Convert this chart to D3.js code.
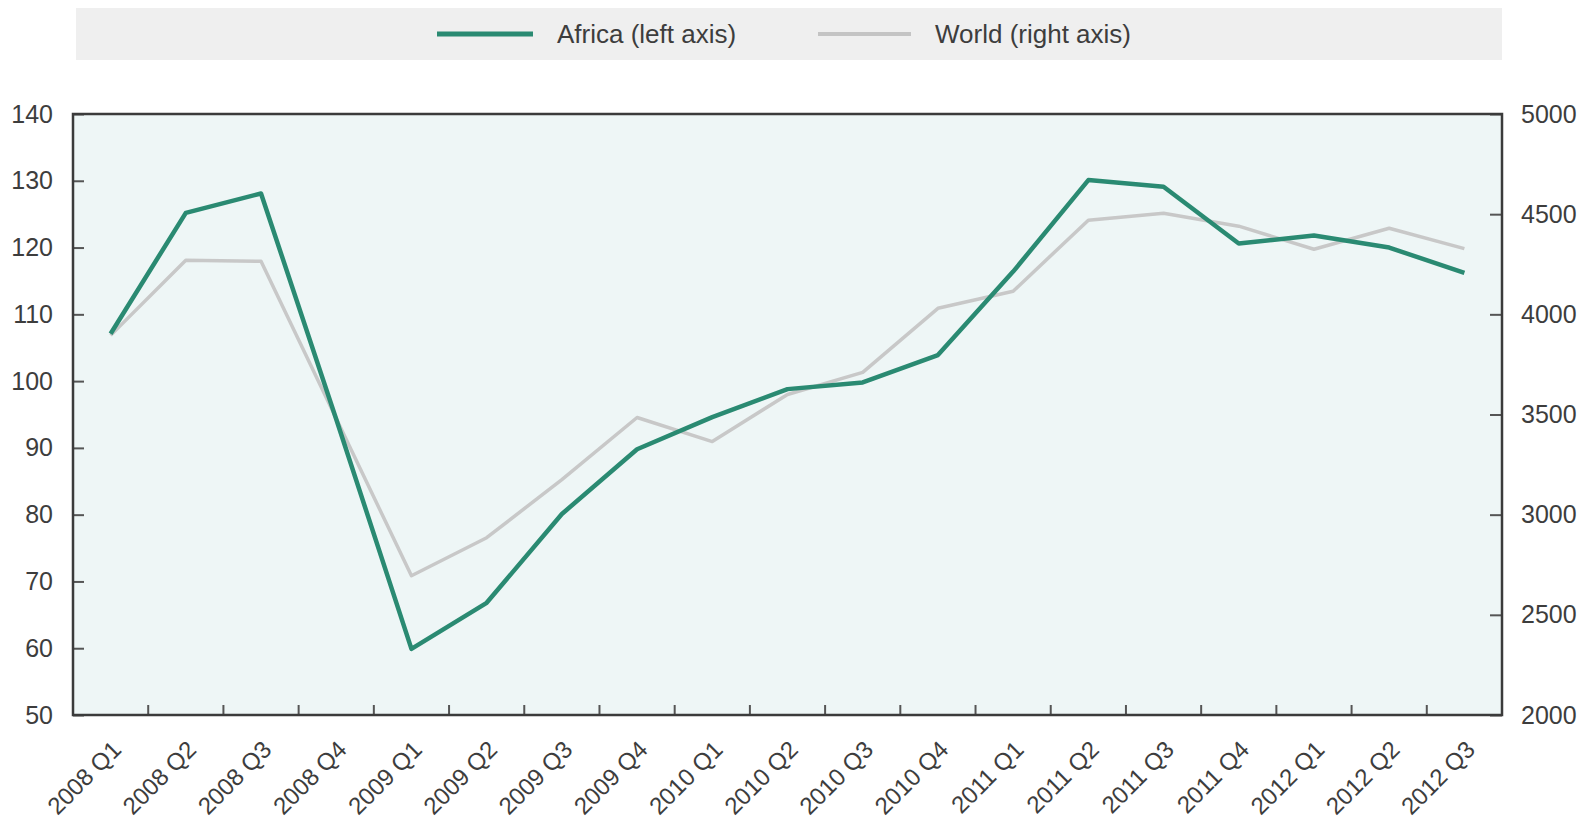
<!DOCTYPE html>
<html>
<head>
<meta charset="utf-8">
<script src="https://cdn.jsdelivr.net/npm/d3@7"></script>
<style>
  html, body { margin: 0; padding: 0; background: #ffffff; }
  svg { display: block; }
  text { font-family: "Liberation Sans", Arial, sans-serif; fill: #3d3d3d; }
</style>
</head>
<body>
<svg id="chart" width="1593" height="823"></svg>
<script>
// ---- data ----
const categories = ["2008 Q1","2008 Q2","2008 Q3","2008 Q4","2009 Q1","2009 Q2","2009 Q3","2009 Q4",
  "2010 Q1","2010 Q2","2010 Q3","2010 Q4","2011 Q1","2011 Q2","2011 Q3","2011 Q4",
  "2012 Q1","2012 Q2","2012 Q3"];
const africa = [107.1, 125.2, 128.1, 94.3, 59.9, 66.8, 80.1, 89.8, 94.6, 98.8, 99.8, 103.9,
  116.4, 130.1, 129.1, 120.6, 121.8, 120.0, 116.2];
const world = [3895, 4270, 4265, 3480, 2695, 2885, 3175, 3485, 3365, 3600, 3710, 4030,
  4115, 4470, 4505, 4440, 4325, 4430, 4328];
const leftTicks = [50, 60, 70, 80, 90, 100, 110, 120, 130, 140];
const rightTicks = [2000, 2500, 3000, 3500, 4000, 4500, 5000];
const seriesNames = ["Africa (left axis)", "World (right axis)"];

// ---- layout ----
const L = 73, R = 1502, T = 114, B = 715;
const svg = d3.select("#chart");

const x = d3.scaleBand().domain(categories).range([L, R]).padding(0);
const yL = d3.scaleLinear().domain([50, 140]).range([B, T]);
const yR = d3.scaleLinear().domain([2000, 5000]).range([B, T]);
const cx = c => x(c) + x.bandwidth() / 2;

// legend band
svg.append("rect").attr("x", 76).attr("y", 8).attr("width", 1426).attr("height", 52)
  .attr("fill", "#efefef");
const lg = svg.append("g");
lg.append("line").attr("x1", 437).attr("x2", 533).attr("y1", 34).attr("y2", 34)
  .attr("stroke", "#2a8a72").attr("stroke-width", 5);
lg.append("text").attr("x", 557).attr("y", 43).attr("font-size", 26).text(seriesNames[0]);
lg.append("line").attr("x1", 818).attr("x2", 911).attr("y1", 34).attr("y2", 34)
  .attr("stroke", "#c4c4c4").attr("stroke-width", 4);
lg.append("text").attr("x", 935).attr("y", 43).attr("font-size", 26).text(seriesNames[1]);

// plot background
svg.append("rect").attr("x", L).attr("y", T).attr("width", R - L).attr("height", B - T)
  .attr("fill", "#eef6f6");

// left axis (ticks inward)
const gL = svg.append("g").attr("transform", `translate(${L},0)`)
  .call(d3.axisLeft(yL).tickValues(leftTicks).tickSize(-11).tickPadding(20).tickFormat(d3.format("d")));
gL.select(".domain").remove();
gL.selectAll("line").attr("stroke", "#555").attr("stroke-width", 2);
gL.selectAll("text").attr("font-size", 25).attr("fill", "#3d3d3d");

// right axis (ticks inward)
const gR = svg.append("g").attr("transform", `translate(${R},0)`)
  .call(d3.axisRight(yR).tickValues(rightTicks).tickSize(-12).tickPadding(19).tickFormat(d3.format("d")));
gR.select(".domain").remove();
gR.selectAll("line").attr("stroke", "#555").attr("stroke-width", 2);
gR.selectAll("text").attr("font-size", 25).attr("fill", "#3d3d3d");

// bottom axis labels
const gB = svg.append("g").attr("transform", `translate(0,${B})`)
  .call(d3.axisBottom(x).tickSize(0));
gB.select(".domain").remove();
gB.selectAll("text")
  .attr("font-size", 24).attr("fill", "#3d3d3d")
  .attr("text-anchor", "end")
  .attr("x", 12).attr("y", 36).attr("dy", 0)
  .attr("transform", "rotate(-45 12 36)");

// bottom ticks at band boundaries (inward)
svg.append("g").selectAll("line").data(categories.slice(1)).join("line")
  .attr("x1", d => x(d)).attr("x2", d => x(d))
  .attr("y1", B).attr("y2", B - 10)
  .attr("stroke", "#555").attr("stroke-width", 2);

// lines
const lineW = d3.line().x((d, i) => cx(categories[i])).y(d => yR(d));
const lineA = d3.line().x((d, i) => cx(categories[i])).y(d => yL(d));
svg.append("path").datum(world).attr("d", lineW)
  .attr("fill", "none").attr("stroke", "#c8c8c8").attr("stroke-width", 3.5)
  .attr("stroke-linejoin", "round");
svg.append("path").datum(africa).attr("d", lineA)
  .attr("fill", "none").attr("stroke", "#2a8a72").attr("stroke-width", 4.5)
  .attr("stroke-linejoin", "round");

// frame
svg.append("rect").attr("x", L).attr("y", T).attr("width", R - L).attr("height", B - T)
  .attr("fill", "none").attr("stroke", "#3b3b3b").attr("stroke-width", 2.5);
</script>
</body>
</html>
